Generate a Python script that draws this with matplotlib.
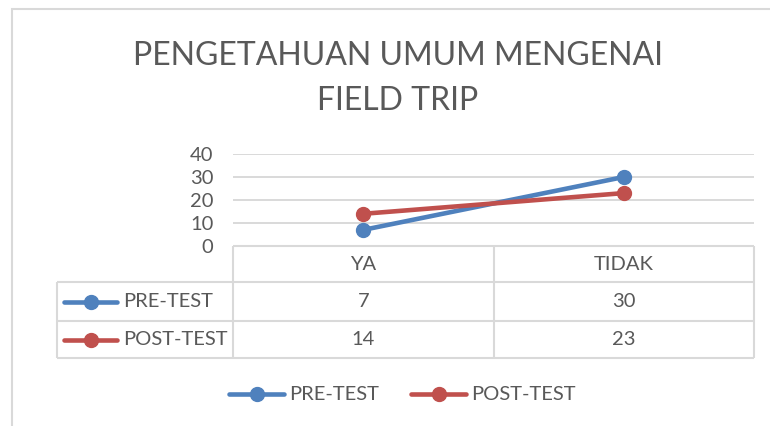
import matplotlib
matplotlib.use('Agg')
import matplotlib.pyplot as plt
from matplotlib.lines import Line2D

# ---- data ----
categories = ['YA', 'TIDAK']
series_names = ['PRE-TEST', 'POST-TEST']
pre_test = [7, 30]
post_test = [14, 23]
y_ticks = [0, 10, 20, 30, 40]
title_lines = ['PENGETAHUAN UMUM MENGENAI', 'FIELD TRIP']

# ---- style ----
plt.rcParams['font.family'] = ['Lato', 'DejaVu Sans']
BLUE = '#4F81BD'
RED = '#C0504D'
TXT = '#595959'
GRID = '#D9D9D9'
FS = 14.5
series_vals = [pre_test, post_test]
series_cols = [BLUE, RED]

W, H = 770, 426
fig = plt.figure(figsize=(W / 100, H / 100), dpi=100)

def fx(px):
    return px / W

def fy(py):
    return 1 - py / H

# main plot area
L, R, T, B = 233, 754, 154, 246
ax = fig.add_axes([fx(L), fy(B), (R - L) / W, (B - T) / H])
ax.set_xlim(0, len(categories))
ax.set_ylim(0, 40)
xs = [i + 0.5 for i in range(len(categories))]
for name, vals, col in zip(series_names, series_vals, series_cols):
    ax.plot(xs, vals, color=col, lw=3.3, marker='o', ms=10,
            solid_capstyle='round', zorder=3, label=name)
ax.set_yticks(y_ticks)
ax.set_yticklabels([str(v) for v in y_ticks], fontsize=FS, color=TXT)
ax.tick_params(axis='y', length=0, pad=14)
ax.set_xticks([])
for s in ax.spines.values():
    s.set_visible(False)
for v in y_ticks[1:]:
    ax.axhline(v, color=GRID, lw=1.4, zorder=1)
ax.patch.set_alpha(0)

# overlay in pixel coordinates for frame, table, title, legend
bg = fig.add_axes([0, 0, 1, 1], zorder=-1)
bg.set_xlim(0, W)
bg.set_ylim(H, 0)
bg.axis('off')

# outer chart border
bg.plot([12, 12, W + 5], [H + 5, 9, 9], color=GRID, lw=1.5, solid_joinstyle='miter')

# table
mid = (L + R) / 2
row_y = [246, 282, 321, 358]
hdr_left = 57
tl = dict(color=GRID, lw=1.5, solid_capstyle='butt')
bg.plot([L, R], [row_y[0], row_y[0]], **tl)
for yy in row_y[1:]:
    bg.plot([hdr_left, R], [yy, yy], **tl)
for xx in [L, mid, R]:
    bg.plot([xx, xx], [row_y[0], row_y[-1]], **tl)
bg.plot([hdr_left, hdr_left], [row_y[1], row_y[-1]], **tl)

col_centers = [L + (R - L) * (i + 0.5) / len(categories) for i in range(len(categories))]
hdr_cy = (row_y[0] + row_y[1]) / 2
for cx, cat in zip(col_centers, categories):
    bg.text(cx, hdr_cy, cat, ha='center', va='center', fontsize=FS, color=TXT)
for r, (name, vals, col) in enumerate(zip(series_names, series_vals, series_cols)):
    cy = (row_y[r + 1] + row_y[r + 2]) / 2
    bg.add_line(Line2D([64, 117], [cy, cy], color=col, lw=3.3, solid_capstyle='round'))
    bg.add_line(Line2D([90.5], [cy], color=col, marker='o', ms=10, lw=0))
    bg.text(123, cy, name, ha='left', va='center', fontsize=FS, color=TXT)
    for cx, v in zip(col_centers, vals):
        bg.text(cx, cy, str(v), ha='center', va='center', fontsize=FS, color=TXT)

# bottom legend
leg_y = 394
leg_x = [229, 411]
for x0, name, col in zip(leg_x, series_names, series_cols):
    bg.add_line(Line2D([x0, x0 + 55], [leg_y, leg_y], color=col, lw=3.3, solid_capstyle='round'))
    bg.add_line(Line2D([x0 + 27.5], [leg_y], color=col, marker='o', ms=10, lw=0))
    bg.text(x0 + 60, leg_y, name, ha='left', va='center', fontsize=FS, color=TXT)

# title
t1 = bg.text(398, 56, title_lines[0], ha='center', va='center', fontsize=24, color=TXT)
t2 = bg.text(398, 101, title_lines[1], ha='center', va='center', fontsize=24, color=TXT)
fig.canvas.draw()
r = fig.canvas.get_renderer()
w1 = t1.get_window_extent(r).width
fs = 24 * 530 / w1
t1.set_fontsize(fs)
t2.set_fontsize(fs)

fig.savefig('out.png', dpi=100, facecolor='white')
